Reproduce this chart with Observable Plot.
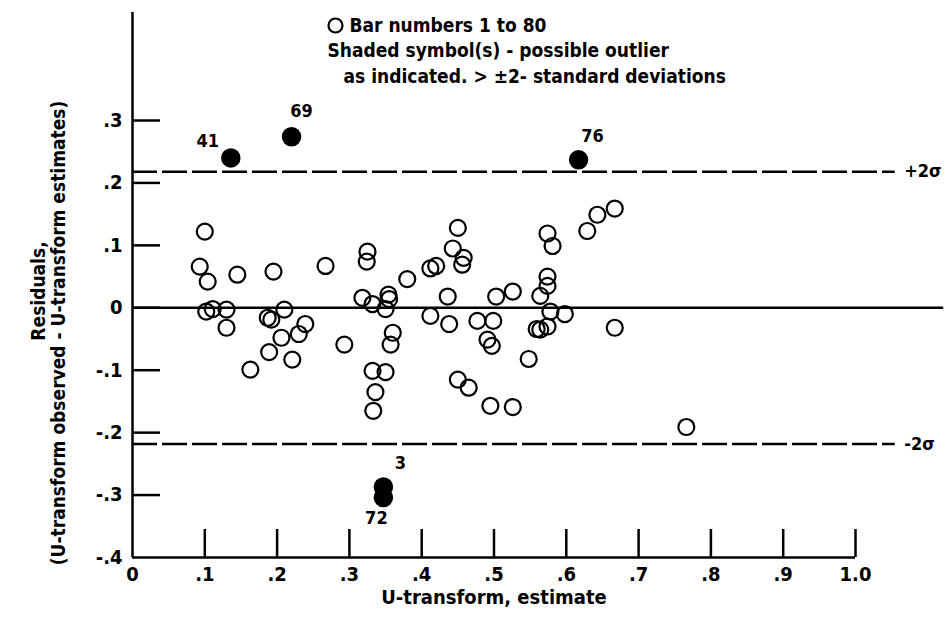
<!DOCTYPE html>
<html>
<head>
<meta charset="utf-8">
<script src="https://cdn.jsdelivr.net/npm/d3@7"></script>
<script src="https://cdn.jsdelivr.net/npm/@observablehq/plot@0.6"></script>
<style>
  html, body { margin: 0; padding: 0; background: #fff; }
  #chart svg { font-family: "Liberation Sans Narrow", "DejaVu Sans Condensed", "Roboto", sans-serif; font-stretch: condensed; font-weight: bold; }
</style>
</head>
<body>
<div id="chart"></div>
<script>
// ---- data ----
const xTicks = [0, 0.1, 0.2, 0.3, 0.4, 0.5, 0.6, 0.7, 0.8, 0.9, 1.0];
const xTickLabels = ["0", ".1", ".2", ".3", ".4", ".5", ".6", ".7", ".8", ".9", "1.0"];
const yTicks = [-0.4, -0.3, -0.2, -0.1, 0, 0.1, 0.2, 0.3];
const yTickLabels = ["-.4", "-.3", "-.2", "-.1", "0", ".1", ".2", ".3"];

// open circles: U-transform estimate (x) and residual (y)
const openU = [0.100, 0.093, 0.104, 0.145, 0.195, 0.267, 0.102, 0.111, 0.130, 0.130,
  0.187, 0.192, 0.210, 0.206, 0.230, 0.239, 0.189, 0.221, 0.163, 0.293,
  0.450, 0.325, 0.324, 0.443, 0.458, 0.456, 0.412, 0.420, 0.380, 0.574,
  0.581, 0.574, 0.574, 0.564, 0.318, 0.332, 0.354, 0.355, 0.350, 0.436,
  0.503, 0.526, 0.412, 0.438, 0.477, 0.499, 0.578, 0.598, 0.559, 0.564,
  0.574, 0.491, 0.497, 0.548, 0.360, 0.357, 0.332, 0.350, 0.336, 0.333,
  0.450, 0.465, 0.495, 0.526, 0.667, 0.643, 0.629, 0.667, 0.766];
const openV = [0.122, 0.066, 0.042, 0.053, 0.058, 0.067, -0.006, -0.002, -0.003, -0.032,
  -0.016, -0.019, -0.003, -0.048, -0.042, -0.026, -0.071, -0.083, -0.099, -0.059,
  0.128, 0.090, 0.074, 0.095, 0.080, 0.069, 0.063, 0.067, 0.046, 0.119,
  0.099, 0.050, 0.035, 0.019, 0.016, 0.006, 0.021, 0.014, -0.002, 0.018,
  0.018, 0.026, -0.013, -0.026, -0.021, -0.021, -0.006, -0.010, -0.034, -0.035,
  -0.030, -0.051, -0.061, -0.082, -0.040, -0.059, -0.101, -0.103, -0.135, -0.165,
  -0.115, -0.128, -0.157, -0.159, 0.159, 0.149, 0.123, -0.032, -0.191];

// shaded symbols: possible outliers
const outlierBar = ["41", "69", "76", "3", "72"];
const outlierU = [0.136, 0.220, 0.617, 0.347, 0.347];
const outlierV = [0.240, 0.274, 0.237, -0.287, -0.304];

const twoSigma = 0.218;
const sigmaLabels = ["+2σ", "-2σ"];

const legendLines = [
  "Bar numbers 1 to 80",
  "Shaded symbol(s) - possible outlier",
  "as indicated. > ±2- standard deviations"
];
const xTitle = "U-transform, estimate";
const yTitle1 = "Residuals,";
const yTitle2 = "(U-transform observed - U-transform estimates)";

// ---- layout / style ----
const yMin = -0.4, yMax = 0.473;
const zeroLineEnd = 1.122, dashLineEnd = 1.055;
const tickLenX = 28 / 723, tickLenY = 28 / 624;
const ink = "#000";
const labelOffsets = {"41": [-23, -17], "69": [10, -25], "76": [14, -24], "3": [17, -24], "72": [-7, 21]};

const openPts = openU.map((u, i) => ({u, v: openV[i]}));
const outPts = outlierU.map((u, i) => ({u, v: outlierV[i], bar: outlierBar[i]}));
const sigmaRows = [twoSigma, -twoSigma].map((v, i) => ({v, label: sigmaLabels[i]}));

const chart = Plot.plot({
  width: 945,
  height: 620,
  marginLeft: 132,
  marginRight: 90,
  marginTop: 12,
  marginBottom: 63,
  style: {background: "#fff", color: ink},
  x: {domain: [0, 1]},
  y: {domain: [yMin, yMax]},
  marks: [
    // reference lines
    Plot.ruleY([0], {x1: 0, x2: zeroLineEnd, stroke: ink, strokeWidth: 2.5}),
    Plot.ruleY(sigmaRows, {y: "v", x1: 0, x2: dashLineEnd, stroke: ink, strokeWidth: 2.5, strokeDasharray: "25,5"}),
    Plot.text(sigmaRows, {x: dashLineEnd, y: "v", text: "label", textAnchor: "start", dx: 9, fontSize: 18, fill: ink}),
    // axis lines
    Plot.ruleX([0], {y1: yMin, y2: yMax, stroke: ink, strokeWidth: 2.5}),
    Plot.ruleY([yMin], {x1: 0, x2: 1, stroke: ink, strokeWidth: 2.5}),
    // inward ticks
    Plot.ruleY(yTicks.filter(d => d !== yMin), {y: d => d, x1: 0, x2: tickLenX, stroke: ink, strokeWidth: 2.5}),
    Plot.ruleX(xTicks.filter(d => d !== 0), {x: d => d, y1: yMin, y2: yMin + tickLenY, stroke: ink, strokeWidth: 2.5}),
    // tick labels
    Plot.axisX({ticks: xTicks, tickFormat: d => xTickLabels[xTicks.indexOf(d)], tickSize: 0, tickPadding: 9, fontSize: 20, label: null}),
    Plot.axisY({ticks: yTicks, tickFormat: d => yTickLabels[yTicks.indexOf(d)], tickSize: 0, tickPadding: 10, fontSize: 20, label: null}),
    // axis titles
    Plot.text([xTitle], {frameAnchor: "bottom", dy: 46, fontSize: 20, fill: ink}),
    Plot.text([yTitle1], {frameAnchor: "left", textAnchor: "middle", dx: -94, dy: 6, rotate: -90, fontSize: 19, fill: ink}),
    Plot.text([yTitle2], {frameAnchor: "left", textAnchor: "middle", dx: -74, dy: 48, rotate: -90, fontSize: 19, fill: ink}),
    // points
    Plot.dot(openPts, {x: "u", y: "v", r: 8, stroke: ink, strokeWidth: 2.2, fill: "none"}),
    Plot.dot(outPts, {x: "u", y: "v", r: 9, fill: ink, stroke: ink}),
    ...outPts.map(p => Plot.text([p], {x: "u", y: "v", text: "bar", dx: labelOffsets[p.bar][0], dy: labelOffsets[p.bar][1], fontSize: 18, fill: ink})),
    // legend
    Plot.dot([0], {frameAnchor: "top-left", dx: 203, dy: 13, r: 7, stroke: ink, strokeWidth: 2.2, fill: "none"}),
    Plot.text([legendLines[0]], {frameAnchor: "top-left", dx: 217, dy: 13, textAnchor: "start", lineAnchor: "middle", fontSize: 19, fill: ink}),
    Plot.text([legendLines[1]], {frameAnchor: "top-left", dx: 195, dy: 38, textAnchor: "start", lineAnchor: "middle", fontSize: 19, fill: ink}),
    Plot.text([legendLines[2]], {frameAnchor: "top-left", dx: 211, dy: 64, textAnchor: "start", lineAnchor: "middle", fontSize: 19, fill: ink})
  ]
});
document.getElementById("chart").appendChild(chart);
</script>
</body>
</html>
